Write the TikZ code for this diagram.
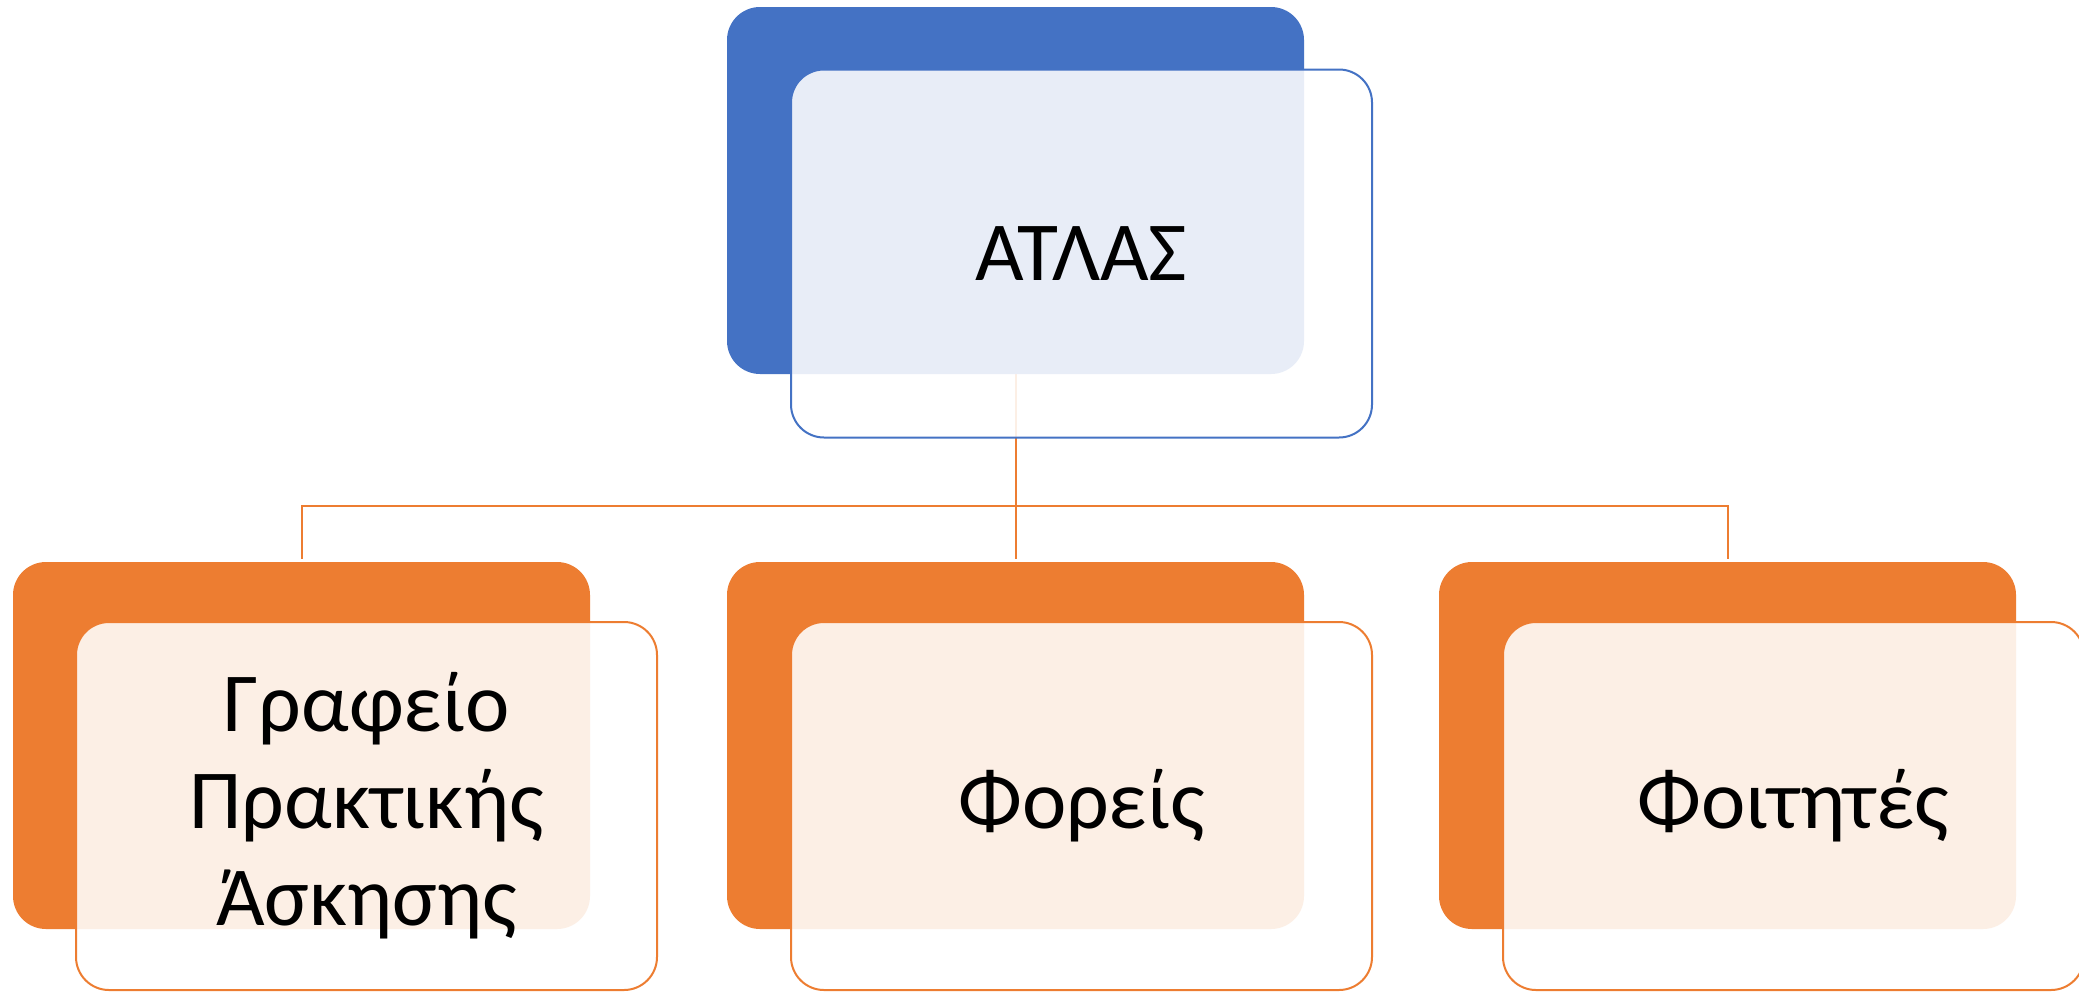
\documentclass[tikz,border=0pt]{standalone}
\usepackage{fontspec}
\setmainfont{Carlito}
\definecolor{accblue}{HTML}{4472C4}
\definecolor{accorange}{HTML}{ED7D31}
\pgfdeclarelayer{paper}
\pgfdeclarelayer{bg}
\pgfsetlayers{paper,bg,main}
\tikzset{
  backbox/.style={rectangle, rounded corners=33pt, minimum width=577pt, minimum height=367pt, inner sep=0pt, outer sep=0pt, draw=none},
  frontbox/.style={rectangle, rounded corners=33pt, minimum width=581pt, minimum height=368pt, inner sep=0pt, outer sep=0pt, fill=white, fill opacity=0.88, text opacity=1, line width=2pt, align=center, text=black, font=\fontsize{84}{97}\selectfont},
  connector/.style={draw=accorange, line width=2pt},
}
\begin{document}
\begin{tikzpicture}[x=1pt,y=-1pt]
\clip (0,0) rectangle (2079,991);
% top
\node[backbox, fill=accblue] (topback) at (1015.5,190.5) {};
\node[frontbox, draw=accblue] (topfront) at (1081.5,253.5) {ΑΤΛΑΣ};
% bottom back boxes
\node[backbox, fill=accorange] (leftback) at (301.5,745.5) {};
\node[backbox, fill=accorange] (midback) at (1015.5,745.5) {};
\node[backbox, fill=accorange] (rightback) at (1727.5,745.5) {};
% bottom front boxes
\node[frontbox, draw=accorange] (leftfront) at (366.5,806) {Γραφείο\\Πρακτικής\\Άσκησης};
\node[frontbox, draw=accorange] (midfront) at (1081.5,806) {Φορείς};
\node[frontbox, draw=accorange] (rightfront) at (1793.5,806) {Φοιτητές};
% connectors
\coordinate (bus) at (0,506);
\begin{pgfonlayer}{paper}
\fill[white] (0,0) rectangle (2079,991);
\end{pgfonlayer}
\begin{pgfonlayer}{bg}
\draw[connector] (topback.south) -- (topback.south |- bus);
\draw[connector, shorten >=3pt] (topback.south |- bus) -| (leftback.north);
\draw[connector, shorten >=3pt] (topback.south |- bus) -| (rightback.north);
\draw[connector, shorten >=3pt] (midback.north |- bus) -- (midback.north);
\end{pgfonlayer}
\end{tikzpicture}
\end{document}
